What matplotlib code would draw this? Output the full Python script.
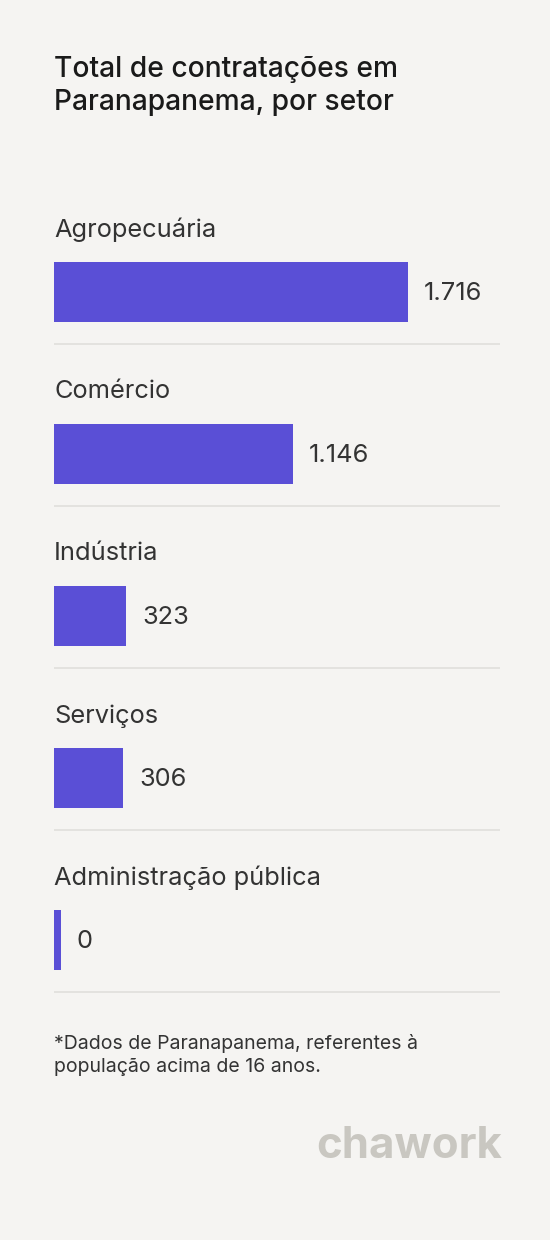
import matplotlib
matplotlib.use("Agg")
import matplotlib.pyplot as plt
import numpy as np

categories = ["Agropecuária", "Comércio", "Indústria", "Serviços", "Administração pública"]
values = [1716, 1146, 323, 306, 0]
value_labels = ["1.716", "1.146", "323", "306", "0"]

W, H = 550, 1240
fig = plt.figure(figsize=(W/100, H/100), dpi=100)
fig.patch.set_facecolor("#f5f4f2")
plt.rcParams['font.family'] = ['Inter', 'DejaVu Sans']

left, right, top, bottom = 54, 500, 200, 1000
ax = fig.add_axes([left/W, 1-bottom/H, (right-left)/W, (bottom-top)/H])
ax.set_facecolor("none")
xmax = 1716 * (right-left) / 347
ax.set_xlim(0, xmax)
ax.set_ylim(bottom, top)
ax.axis("off")

centers = [292 + 162*i for i in range(len(categories))]
px = xmax / (right-left)
for i, (c, v, lab) in enumerate(zip(categories, values, value_labels)):
    yc = centers[i]
    w = v + 7*px
    ax.barh(yc, w, height=60, color="#5a4fd6")
    ax.text(0, yc-62, c, fontsize=18.3, color="#333333", va="center", ha="left")
    ax.text(w + 16*px, yc+2, lab, fontsize=18.3, color="#333333", va="center", ha="left")
    ax.plot([0, xmax], [yc+52, yc+52], color="#e0dfdc", lw=1.2)

fig.text(54/W, 1-86/H, "Total de contratações em\nParanapanema, por setor", fontsize=20.3,
         color="#1a1a1a", va="center", ha="left", linespacing=1.25, fontweight="medium")
fig.text(54/W, 1-1055/H, "*Dados de Paranapanema, referentes à\npopulação acima de 16 anos.",
         fontsize=14, color="#333333", va="center", ha="left", linespacing=1.35)
fig.text(502/W, 1-1147/H, "chawork", fontsize=31.5, color="#c9c7c1", fontweight="bold",
         va="center", ha="right")

fig.savefig("out.png", dpi=100, facecolor=fig.get_facecolor())
